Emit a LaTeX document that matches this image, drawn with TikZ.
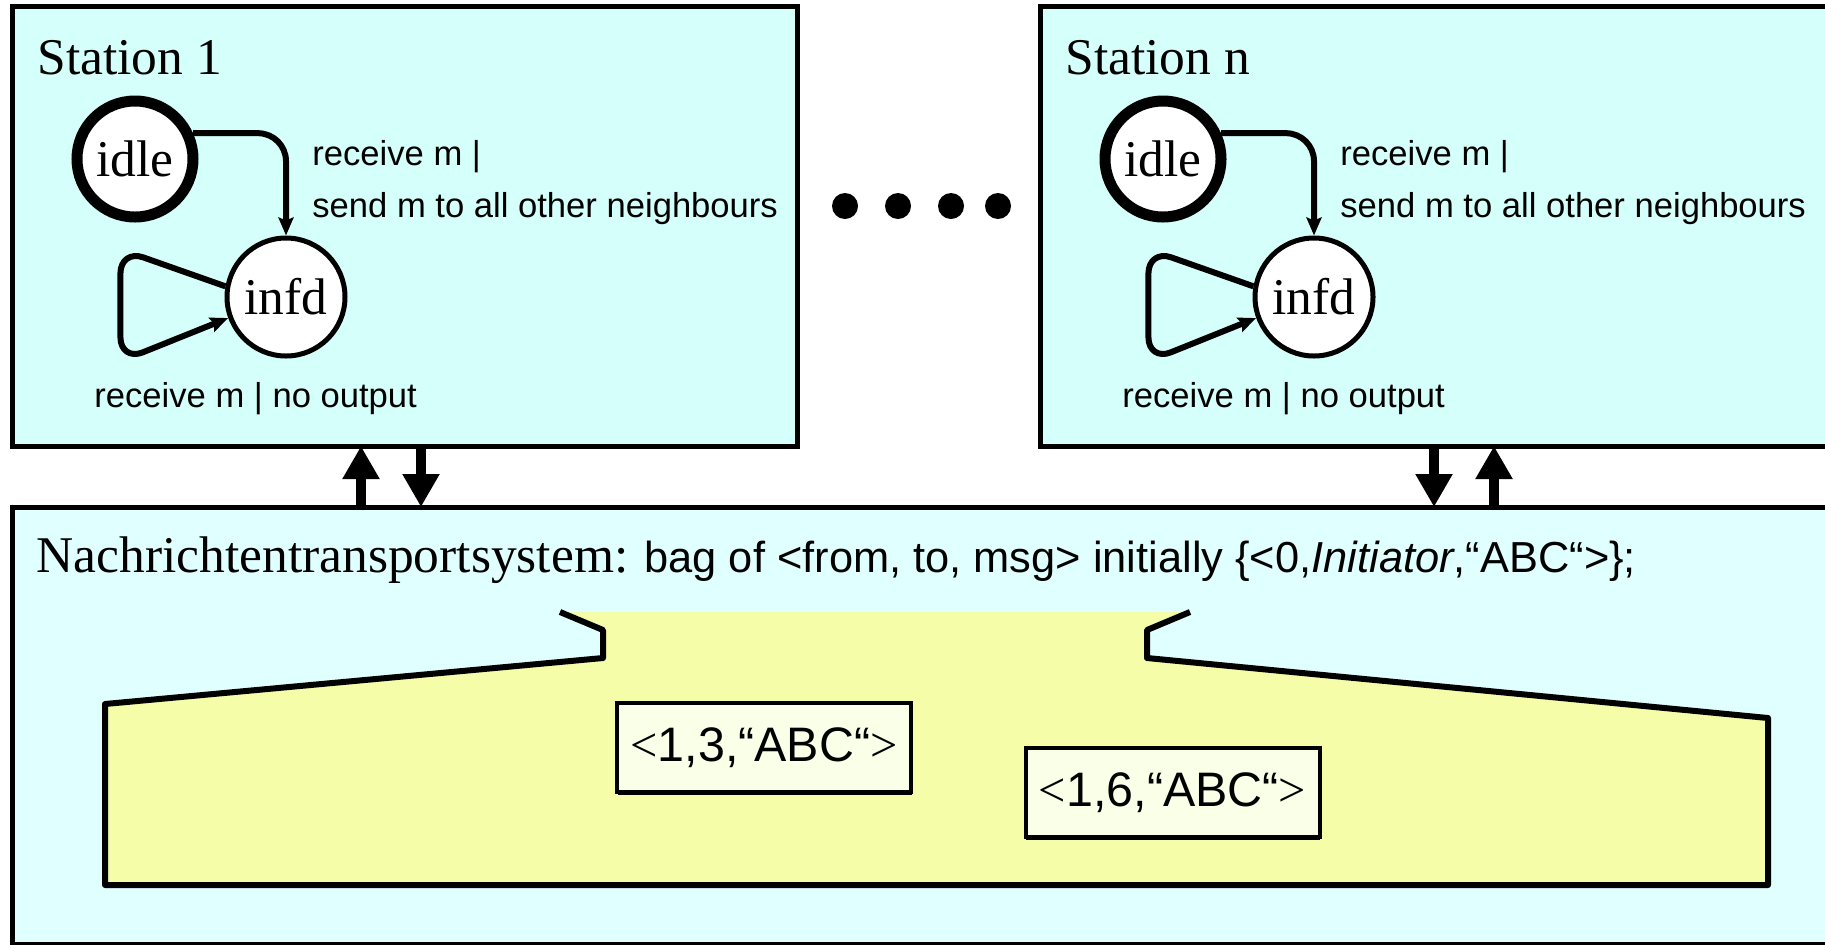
\documentclass[tikz,border=0pt]{standalone}
\usepackage{fontspec}
\setmainfont{Liberation Serif}
\setsansfont{Liberation Sans}
\usetikzlibrary{arrows.meta,calc,shadows}

\definecolor{stationcyan}{RGB}{212,255,250}
\definecolor{netcyan}{RGB}{224,255,255}
\definecolor{bagyellow}{RGB}{245,253,168}
\definecolor{msgyellow}{RGB}{250,255,232}

\def\titlefont{\rmfamily\fontsize{25.75}{30}\selectfont}
\def\labelfont{\sffamily\fontsize{17.3}{20}\selectfont}
\def\netfont{\sffamily\fontsize{21.7}{26}\selectfont}
\def\msgfont{\sffamily\fontsize{24.2}{28}\selectfont}

\tikzset{
  stationbox/.style={draw, fill=stationcyan, line width=2.5pt, anchor=north west,
    outer sep=0pt, inner sep=0pt, minimum height=220pt},
  netbox/.style={draw, fill=netcyan, line width=2.5pt, anchor=north west,
    outer sep=0pt, inner sep=0pt},
  state/.style={circle, draw, fill=white, line width=2.5pt, minimum size=59pt,
    inner sep=0pt, font=\titlefont},
  startstate/.style={state, line width=5.5pt, minimum size=58pt},
  trans/.style={line width=3pt, -{Stealth[length=9pt,width=7.5pt,inset=1.5pt]}},
  ifarrow/.style={line width=5pt, -{Triangle[length=16.5pt,width=17.5pt]}},
  msgbox/.style={draw, fill=msgyellow, line width=2pt, minimum width=147pt,
    minimum height=44.5pt, inner sep=0pt, font=\msgfont,
    drop shadow={shadow xshift=0.4pt, shadow yshift=-1.5pt, fill=black, opacity=1}},
  lbl/.style={anchor=base west, inner sep=0pt, font=\labelfont},
}

\begin{document}
\begin{tikzpicture}[x=0.5pt, y=-0.5pt]
%%%%% START %%%%%
\useasboundingbox[fill=white] (0,0) rectangle (1825,944);

% the two stations
\foreach \sx/\sn/\sw in {0/1/392.5pt, 1028/n/400pt}{
  \begin{scope}[xshift=\sx*0.5pt]
    \node[stationbox, minimum width=\sw] (st\sn) at (12,6) {};
    \node[anchor=base west, inner sep=0pt, font=\titlefont] (title\sn) at (37,74) {Station \sn};
    \node[startstate] (idle\sn) at (135,159) {idle};
    \node[state] (infd\sn) at (286,297) {infd};
    \draw[trans, rounded corners=14pt] (idle\sn.24) -| (infd\sn.north);
    \draw[trans, rounded corners=12pt] (infd\sn.170) -- ++(-105,-37) -- ++(0,112) -- (infd\sn.200);
    \node[lbl] (recv\sn) at (312,165) {receive m |};
    \node[lbl] (send\sn) at (312,217) {send m to all other neighbours};
    \node[lbl] (loop\sn) at (94,407) {receive m | no output};
  \end{scope}
}

% dots between the stations
\foreach \dx in {845,898,951,998}
  \fill (\dx,206) circle[radius=6.5pt];

% message transport system
\node[netbox, minimum width=914pt, minimum height=218.5pt] (net) at (12,507) {};

\coordinate (up1) at (361,0);
\coordinate (dn1) at (421,0);
\coordinate (dnn) at (1434,0);
\coordinate (upn) at (1494,0);
\draw[ifarrow] (net.north -| up1) -- (st1.south -| up1);
\draw[ifarrow] (st1.south -| dn1) -- (net.north -| dn1);
\draw[ifarrow] (stn.south -| dnn) -- (net.north -| dnn);
\draw[ifarrow] (net.north -| upn) -- (stn.south -| upn);

\node[anchor=base west, inner sep=0pt] (nettitle) at (36,572)
  {\titlefont Nachrichtentransportsystem:\netfont{} bag of <from, to, msg> initially \{<0,\textit{Initiator},“ABC“>\};};

% the bag
\fill[bagyellow] (560,612) -- (603,630) -- (603,658) -- (105,704) -- (105,885) -- (1768,885)
  -- (1768,718) -- (1147,658) -- (1147,630) -- (1190,612) -- cycle;
\draw[line width=3pt, line join=round] (560,612) -- (603,630) -- (603,658) -- (105,704) -- (105,885)
  -- (1768,885) -- (1768,718) -- (1147,658) -- (1147,630) -- (1190,612);

\node[msgbox] (m13) at (764,747.5) {{\rmfamily<}1,3,“ABC“{\rmfamily>}};
\node[msgbox] (m16) at (1172.5,792.5) {{\rmfamily<}1,6,“ABC“{\rmfamily>}};
%%%%% END %%%%%
\end{tikzpicture}
\end{document}
